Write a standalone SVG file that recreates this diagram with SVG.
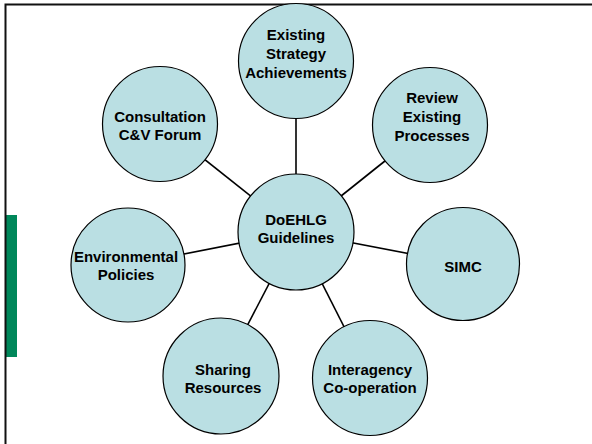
<svg xmlns="http://www.w3.org/2000/svg" width="592" height="444" viewBox="0 0 592 444">
<style>
.node circle{fill:#BADFE3;stroke:#000;stroke-width:1.2}
.node text{font-family:"Liberation Sans",Arial,sans-serif;font-weight:bold;font-size:15px;fill:#000;text-anchor:middle}
.conn line{stroke:#000;stroke-width:1.6}
.frame{stroke:#111;stroke-width:2;fill:none}
</style>
<rect width="592" height="444" fill="#fff"/>
<rect x="5" y="215" width="12" height="142" fill="#00875A"/>
<path class="frame" d="M5.5 444 V4.5 H592"/>
<g id="connectors" class="conn">
<line x1="296" y1="61" x2="296" y2="232"/>
<line x1="430" y1="125" x2="296" y2="232"/>
<line x1="160" y1="124" x2="296" y2="232"/>
<line x1="463" y1="264" x2="296" y2="232"/>
<line x1="128" y1="265" x2="296" y2="232"/>
<line x1="221" y1="376" x2="296" y2="232"/>
<line x1="370" y1="378" x2="296" y2="232"/>
</g>
<g id="existing" class="node"><circle cx="296" cy="61" r="57.5"/><text x="296" y="40">Existing</text><text x="296" y="59">Strategy</text><text x="296" y="78">Achievements</text></g>
<g id="review" class="node"><circle cx="430" cy="125" r="57.5"/><text x="432" y="103">Review</text><text x="432" y="122">Existing</text><text x="432" y="141">Processes</text></g>
<g id="consultation" class="node"><circle cx="160" cy="124" r="57.5"/><text x="160" y="122">Consultation</text><text x="160" y="140">C&amp;V Forum</text></g>
<g id="center" class="node"><circle cx="296" cy="232" r="58"/><text x="296" y="225">DoEHLG</text><text x="296" y="243">Guidelines</text></g>
<g id="simc" class="node"><circle cx="463" cy="264" r="56.5"/><text x="463" y="272">SIMC</text></g>
<g id="environmental" class="node"><circle cx="128" cy="265" r="57"/><text x="126" y="262">Environmental</text><text x="126" y="280">Policies</text></g>
<g id="sharing" class="node"><circle cx="221" cy="376" r="58"/><text x="223" y="375">Sharing</text><text x="223" y="393">Resources</text></g>
<g id="interagency" class="node"><circle cx="370" cy="378" r="57.5"/><text x="370" y="375">Interagency</text><text x="370" y="393">Co-operation</text></g>
</svg>
